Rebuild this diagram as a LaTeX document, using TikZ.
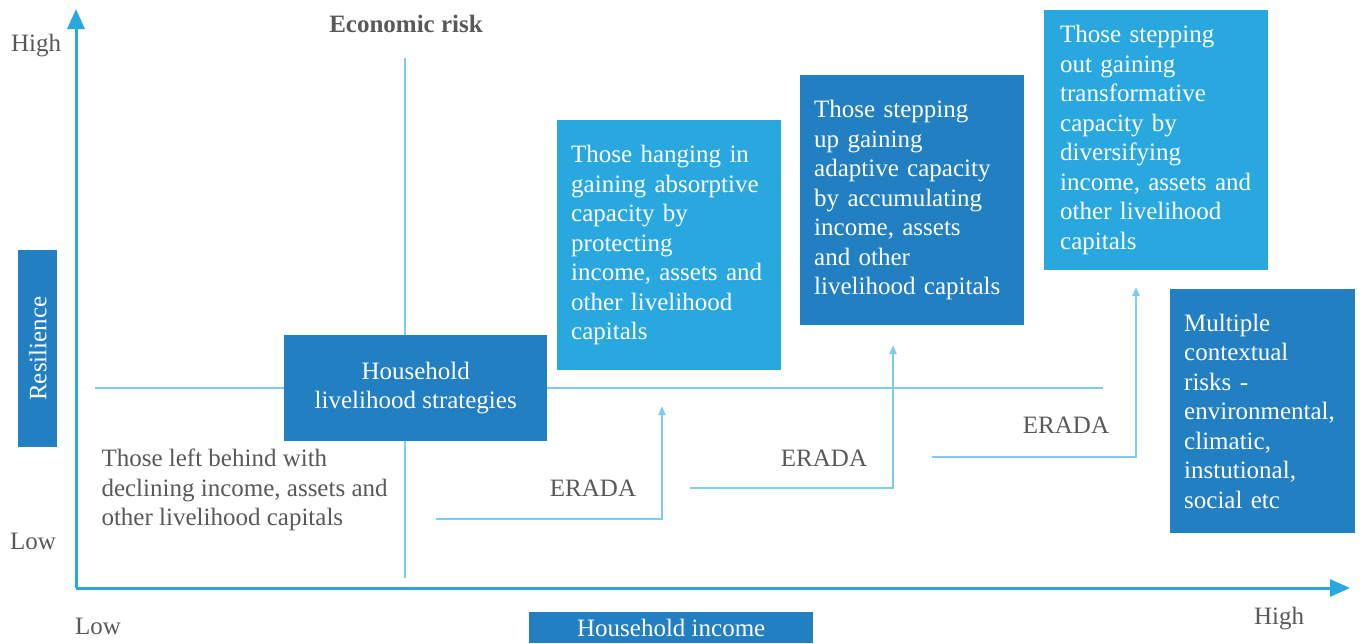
\documentclass[tikz,border=0pt]{standalone}
\usepackage{fontspec}
\setmainfont{Liberation Serif}
\usetikzlibrary{arrows.meta}
\definecolor{lightbox}{HTML}{29A8E0}
\definecolor{darkbox}{HTML}{217FC2}
\definecolor{thinline}{HTML}{7DCBEF}
\definecolor{axisblue}{HTML}{29A8E0}
\definecolor{textgray}{HTML}{58595B}
\tikzset{
	txt/.style={text=textgray,font=\fontsize{25}{29.5}\selectfont},
	box/.style={anchor=north west,inner xsep=14pt,inner ysep=0pt,text=white,align=left,font=\fontsize{25}{29.5}\selectfont},
	lightbox/.style={box,fill=lightbox},
	darkbox/.style={box,fill=darkbox},
	axis/.style={axisblue,line width=3pt,-{Triangle[length=20pt,width=17pt]}},
	guide/.style={thinline,line width=1.5pt},
	stepline/.style={thinline,line width=2pt,-{Triangle[length=9pt,width=7pt]}}
}
\begin{document}
\begin{tikzpicture}[x=1pt,y=-1pt]
\useasboundingbox (0,0) rectangle (1362,643);
\draw[guide] (405,58) -- (405,578);
\draw[guide] (95,388) -- (1103,388);
\coordinate (origin) at (76,588);
\coordinate (ytip) at (76,9);
\coordinate (xtip) at (1350,588);
\draw[axis] (origin) -- (ytip);
\draw[axis] (origin) -- (xtip);
\node[txt] (yhigh) at (36,46) {High};
\node[txt] (ylow) at (33,541) {Low};
\node[txt] (xlow) at (98,626) {Low};
\node[txt] (xhigh) at (1279,619) {High};
\node[txt,font=\fontsize{25}{29.5}\selectfont\bfseries] (risk) at (406,24) {Economic risk};
\node[darkbox,minimum width=39pt,minimum height=197pt,inner xsep=0pt] (resil) at (18,250) {};
\node[text=white,rotate=90,font=\fontsize{25}{29.5}\selectfont] (resiltext) at (resil.center) {Resilience};
\node[darkbox,align=center,minimum width=263pt,minimum height=106pt,inner xsep=0pt] (strat) at (284,335) {Household\\livelihood strategies};
\node[darkbox,align=center,minimum width=284pt,minimum height=31pt,inner xsep=0pt] (income) at (529,612) {Household income};
\node[txt,anchor=west,align=left] (behind) at (98,490) {Those left behind with\\declining income, assets and\\other livelihood capitals};
\node[lightbox,text width=196pt,minimum height=250pt] (hang) at (557,120) {Those hanging in\\gaining absorptive\\capacity by\\protecting\\income, assets and\\other livelihood\\capitals};
\node[darkbox,text width=196pt,minimum height=250pt] (up) at (800,75) {Those stepping\\up gaining\\adaptive capacity\\by accumulating\\income, assets\\and other\\livelihood capitals};
\node[lightbox,inner xsep=16pt,text width=192pt,minimum height=260pt] (out) at (1044,10) {Those stepping\\out gaining\\transformative\\capacity by\\diversifying\\income, assets and\\other livelihood\\capitals};
\node[darkbox,text width=157pt,minimum height=244pt] (risks) at (1170,289) {Multiple\\contextual\\risks -\\environmental,\\climatic,\\instutional,\\social etc};
\coordinate (s1) at (436,519);
\coordinate (t1) at (662,406);
\coordinate (s2) at (690,488);
\coordinate (t2) at (893,345);
\coordinate (s3) at (932,457);
\coordinate (t3) at (1136,287);
\draw[stepline] (s1) -| (t1);
\draw[stepline] (s2) -| (t2);
\draw[stepline] (s3) -| (t3);
\node[txt] (erada1) at (593,488) {ERADA};
\node[txt] (erada2) at (824,458) {ERADA};
\node[txt] (erada3) at (1066,425) {ERADA};
\end{tikzpicture}
\end{document}
